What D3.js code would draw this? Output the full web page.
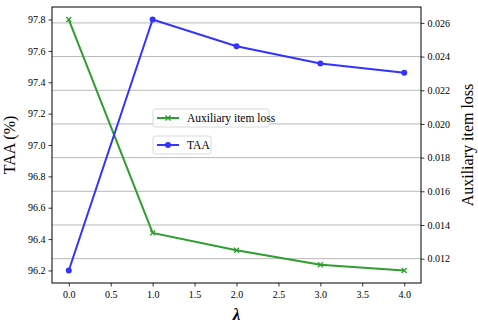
<!DOCTYPE html>
<html>
<head>
<meta charset="utf-8">
<script src="https://cdn.jsdelivr.net/npm/d3@7"></script>
<style>
  body { margin: 0; background: #fff; }
  svg text { font-family: 'Liberation Serif', 'Times New Roman', Times, 'DejaVu Serif', serif; }
</style>
</head>
<body>
<div class="chart"></div>
<script>
// data
var lambdas = [0, 1, 2, 3, 4];
var taa = [96.2, 97.8, 97.63, 97.52, 97.46];
var auxLoss = [0.0262, 0.01353, 0.0125, 0.01164, 0.0113];
var xTicks = [0, 0.5, 1, 1.5, 2, 2.5, 3, 3.5, 4];
var leftTicks = [96.2, 96.4, 96.6, 96.8, 97.0, 97.2, 97.4, 97.6, 97.8];
var rightTicks = [0.012, 0.014, 0.016, 0.018, 0.020, 0.022, 0.024, 0.026];

var serif = "'Liberation Serif', 'Times New Roman', Times, serif";

var margin = { top: 7, right: 57, bottom: 43, left: 52 };
var width = 478 - margin.left - margin.right;
var height = 326 - margin.top - margin.bottom;

var blue = '#3333ff';
var green = '#2e9e2e';

var svg = d3.select('.chart')
  .append('svg')
    .attr('width', 478)
    .attr('height', 326)
  .append('g')
    .attr('transform', `translate(${margin.left}, ${margin.top})`);

var xScale = d3.scaleLinear().domain([-0.2, 4.2]).range([0, width]);
var yLeft = d3.scaleLinear().domain([96.12, 97.88]).range([height, 0]);
var yRight = d3.scaleLinear().domain([0.010555, 0.026945]).range([height, 0]);

// grid from right axis
svg.selectAll('.grid')
  .data(rightTicks)
  .enter()
  .append('line')
    .attr('x1', 0)
    .attr('x2', width)
    .attr('y1', d => yRight(d))
    .attr('y2', d => yRight(d))
    .attr('stroke', '#b0b0b0')
    .attr('stroke-width', 0.9);

function styleAxis(g) {
  g.attr('font-family', serif).attr('font-size', 10);
  g.select('.domain').remove();
  g.selectAll('line').attr('stroke', '#000').attr('stroke-width', 0.8);
  g.selectAll('text').attr('fill', '#000');
}

svg.append('g')
  .attr('transform', `translate(0, ${height})`)
  .call(d3.axisBottom(xScale).tickValues(xTicks).tickFormat(d3.format('.1f')).tickSize(3.5).tickPadding(4))
  .call(styleAxis);

svg.append('g')
  .call(d3.axisLeft(yLeft).tickValues(leftTicks).tickFormat(d3.format('.1f')).tickSize(3.5).tickPadding(3))
  .call(styleAxis);

svg.append('g')
  .attr('transform', `translate(${width}, 0)`)
  .call(d3.axisRight(yRight).tickValues(rightTicks).tickFormat(d3.format('.3f')).tickSize(3.5).tickPadding(3))
  .call(styleAxis);

svg.append('rect')
  .attr('width', width)
  .attr('height', height)
  .attr('fill', 'none')
  .attr('stroke', '#000')
  .attr('stroke-width', 1);

// lines
var taaData = lambdas.map((d, i) => ({ x: d, y: taa[i] }));
var auxData = lambdas.map((d, i) => ({ x: d, y: auxLoss[i] }));

svg.append('path')
  .datum(auxData)
  .attr('fill', 'none')
  .attr('stroke', green)
  .attr('stroke-width', 2)
  .attr('d', d3.line().x(d => xScale(d.x)).y(d => yRight(d.y)));

svg.selectAll('.xmark')
  .data(auxData)
  .enter()
  .append('path')
    .attr('d', 'M-2.5,-2.5L2.5,2.5M-2.5,2.5L2.5,-2.5')
    .attr('transform', d => `translate(${xScale(d.x)}, ${yRight(d.y)})`)
    .attr('stroke', green)
    .attr('stroke-width', 1.3);

svg.append('path')
  .datum(taaData)
  .attr('fill', 'none')
  .attr('stroke', blue)
  .attr('stroke-width', 2)
  .attr('d', d3.line().x(d => xScale(d.x)).y(d => yLeft(d.y)));

svg.selectAll('.dot')
  .data(taaData)
  .enter()
  .append('circle')
    .attr('cx', d => xScale(d.x))
    .attr('cy', d => yLeft(d.y))
    .attr('r', 3)
    .attr('fill', blue);

// legends
function legend(x, y, w, label, color, marker) {
  var g = svg.append('g').attr('transform', `translate(${x}, ${y})`);
  g.append('rect')
    .attr('width', w).attr('height', 18).attr('rx', 2.5)
    .attr('fill', '#fff').attr('fill-opacity', 0.85)
    .attr('stroke', '#d5d5d5').attr('stroke-width', 0.9);
  g.append('line')
    .attr('x1', 4).attr('x2', 26).attr('y1', 9).attr('y2', 9)
    .attr('stroke', color).attr('stroke-width', 2);
  if (marker === 'x') {
    g.append('path').attr('d', 'M12.5,6.5L17.5,11.5M12.5,11.5L17.5,6.5').attr('stroke', color).attr('stroke-width', 1.3);
  } else {
    g.append('circle').attr('cx', 15).attr('cy', 9).attr('r', 3).attr('fill', color);
  }
  g.append('text')
    .attr('x', 34).attr('y', 13)
    .attr('font-family', serif)
    .attr('font-size', 11.5)
    .text(label);
}
legend(101, 102, 116, 'Auxiliary item loss', green, 'x');
legend(101, 129, 58, 'TAA', blue, 'o');

// axis labels
svg.append('text')
  .attr('transform', `translate(-37, ${height / 2}) rotate(-90)`)
  .attr('text-anchor', 'middle')
  .attr('font-family', serif)
  .attr('font-size', 16)
  .text('TAA (%)');

svg.append('text')
  .attr('transform', `translate(${width + 52}, ${height / 2}) rotate(-90)`)
  .attr('text-anchor', 'middle')
  .attr('font-family', serif)
  .attr('font-size', 16)
  .text('Auxiliary item loss');

svg.append('text')
  .attr('x', width / 2)
  .attr('y', height + 37)
  .attr('text-anchor', 'middle')
  .attr('font-family', '"DejaVu Sans", sans-serif')
  .attr('font-style', 'italic')
  .attr('font-weight', 'bold')
  .attr('font-size', 17)
  .text('λ');
</script>
</body>
</html>
